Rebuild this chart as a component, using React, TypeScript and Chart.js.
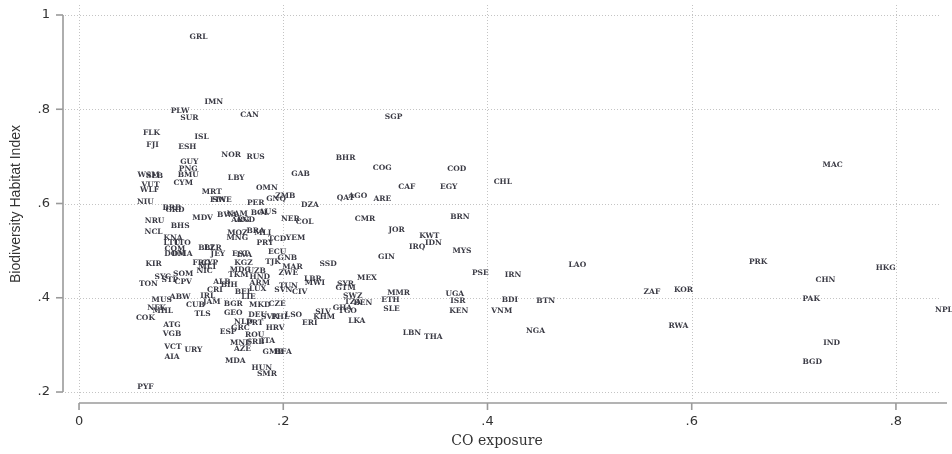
import React, { useEffect, useRef } from "react";
import { Chart, registerables } from "chart.js";

Chart.register(...registerables);

const isoCodes = [
  "GRL","IMN","PLW","SUR","CAN","FLK","ISL","FJI","ESH","NOR",
  "RUS","GUY","PNG","BMU","WSM","SLB","GAB","LBY","CYM","VUT",
  "WLF","OMN","MRT","ZMB","GNQ","SWE","FIN","NIU","PER","DZA",
  "BRB","GRD","MDV","BWA","NAM","BOL","AUS","ARG","AND","NER",
  "COL","NRU","BHS","NCL","MOZ","MNG","BRA","MLI","PRY","TCD",
  "YEM","KNA","LTU","TTO","COM","DOM","DMA","BLZ","BLR","JEY",
  "FRO","CYP","MLT","NIC","EST","LVA","KGZ","MDG","UZB","TKM",
  "HND","TJK","ECU","GNB","MAR","ZWE","SSD","LBR","MWI","TUN",
  "SVN","CIV","LUX","ARM","BEL","LIE","KIR","SOM","SYC","STP",
  "CPV","TON","ALB","BIH","CRI","IRL","MUS","ABW","NFK","MHL",
  "CUB","JAM","COK","TLS","BGR","GEO","MKD","DEU","NLD","SVK",
  "PHL","PRT","HRV","GRC","ESP","ROU","SRB","ITA","MNE","AZE",
  "GMB","BFA","MDA","HUN","SMR","PYF","ATG","VGB","VCT","URY",
  "AIA","CZE","LSO","ERI","SLV","KHM","SWZ","GHA","TGO","LKA",
  "TZA","BEN","SYR","GTM","MEX","GIN","MMR","ETH","SLE","LBN",
  "THA","UGA","ISR","KEN","PSE","MYS","IRQ","IDN","KWT","JOR",
  "CMR","BRN","QAT","AGO","ARE","CAF","EGY","COG","COD","BHR",
  "SGP","CHL","IRN","LAO","BDI","VNM","BTN","NGA","ZAF","KOR",
  "RWA","PRK","MAC","HKG","CHN","PAK","IND","BGD","NPL"
];

const coExposure = [
  0.117,0.132,0.099,0.108,0.167,0.071,0.120,0.072,0.106,0.149,
  0.173,0.108,0.107,0.107,0.068,0.074,0.217,0.154,0.102,0.070,
  0.069,0.184,0.130,0.202,0.193,0.140,0.136,0.065,0.173,0.226,
  0.091,0.094,0.121,0.145,0.155,0.177,0.185,0.158,0.163,0.207,
  0.221,0.074,0.099,0.073,0.155,0.155,0.173,0.180,0.182,0.194,
  0.212,0.092,0.091,0.101,0.094,0.094,0.101,0.125,0.131,0.136,
  0.120,0.128,0.126,0.123,0.158,0.162,0.161,0.158,0.174,0.156,
  0.177,0.190,0.194,0.204,0.209,0.205,0.244,0.229,0.231,0.205,
  0.200,0.216,0.175,0.177,0.161,0.166,0.073,0.102,0.082,0.089,
  0.102,0.068,0.140,0.147,0.133,0.126,0.081,0.099,0.076,0.082,
  0.114,0.130,0.065,0.121,0.151,0.151,0.177,0.175,0.161,0.187,
  0.197,0.172,0.192,0.158,0.146,0.172,0.173,0.185,0.158,0.160,
  0.190,0.200,0.153,0.179,0.184,0.065,0.091,0.091,0.092,0.112,
  0.091,0.194,0.210,0.226,0.239,0.240,0.268,0.258,0.263,0.272,
  0.268,0.278,0.261,0.261,0.282,0.301,0.313,0.305,0.306,0.326,
  0.347,0.368,0.371,0.372,0.393,0.375,0.331,0.347,0.343,0.311,
  0.280,0.373,0.261,0.273,0.297,0.321,0.362,0.297,0.370,0.261,
  0.308,0.415,0.425,0.488,0.422,0.414,0.457,0.447,0.561,0.592,
  0.587,0.665,0.738,0.790,0.731,0.717,0.737,0.718,0.847
];

const bhiValues = [
  0.953,0.815,0.796,0.781,0.788,0.750,0.741,0.724,0.720,0.703,
  0.699,0.688,0.673,0.661,0.661,0.658,0.663,0.654,0.644,0.639,
  0.629,0.633,0.624,0.616,0.610,0.607,0.607,0.603,0.601,0.597,
  0.590,0.586,0.569,0.576,0.578,0.580,0.582,0.565,0.565,0.567,
  0.561,0.563,0.552,0.540,0.537,0.527,0.542,0.537,0.516,0.525,
  0.527,0.527,0.516,0.516,0.503,0.493,0.493,0.506,0.506,0.493,
  0.474,0.474,0.465,0.457,0.493,0.491,0.474,0.459,0.457,0.448,
  0.444,0.476,0.497,0.484,0.465,0.453,0.472,0.440,0.431,0.425,
  0.416,0.412,0.419,0.431,0.412,0.402,0.472,0.450,0.444,0.438,
  0.433,0.429,0.433,0.427,0.416,0.404,0.395,0.402,0.378,0.372,
  0.385,0.391,0.357,0.366,0.387,0.368,0.385,0.363,0.349,0.359,
  0.359,0.346,0.336,0.336,0.327,0.321,0.306,0.308,0.304,0.291,
  0.285,0.285,0.266,0.251,0.238,0.211,0.342,0.323,0.296,0.289,
  0.274,0.387,0.363,0.346,0.370,0.359,0.404,0.378,0.372,0.351,
  0.391,0.389,0.429,0.421,0.442,0.487,0.410,0.395,0.376,0.325,
  0.317,0.408,0.393,0.372,0.453,0.499,0.508,0.516,0.531,0.544,
  0.567,0.571,0.612,0.616,0.610,0.635,0.635,0.675,0.673,0.697,
  0.784,0.646,0.448,0.470,0.395,0.372,0.393,0.329,0.412,0.416,
  0.340,0.476,0.682,0.463,0.438,0.397,0.304,0.264,0.374
];

const xTickValues = [0, 0.2, 0.4, 0.6, 0.8];
const xTickLabels = ["0", ".2", ".4", ".6", ".8"];
const yTickValues = [0.2, 0.4, 0.6, 0.8, 1];
const yTickLabels = [".2", ".4", ".6", ".8", "1"];
const xTitle = "CO exposure";
const yTitle = "Biodiversity Habitat Index";

const X_MIN = -0.0157;
const X_MAX = 0.85;
const Y_MIN = 0.1767;
const Y_MAX = 1.0212;

const stataPlugin = {
  id: "stataDecor",
  beforeDatasetsDraw(chart: any) {
    const { ctx, chartArea, scales } = chart;
    const xs = scales.x;
    const ys = scales.y;
    ctx.save();
    ctx.strokeStyle = "#c4c4c4";
    ctx.lineWidth = 1;
    ctx.setLineDash([1, 2]);
    for (const v of xTickValues) {
      const px = Math.round(xs.getPixelForValue(v)) + 0.5;
      ctx.beginPath();
      ctx.moveTo(px, chartArea.top);
      ctx.lineTo(px, chartArea.bottom - 2);
      ctx.stroke();
    }
    for (const v of yTickValues) {
      const py = Math.round(ys.getPixelForValue(v)) + 0.5;
      ctx.beginPath();
      ctx.moveTo(chartArea.left + 2, py);
      ctx.lineTo(chartArea.right - 6, py);
      ctx.stroke();
    }
    ctx.setLineDash([]);
    ctx.strokeStyle = "#9a9a9a";
    ctx.lineWidth = 1.6;
    const ax = chartArea.left;
    const yTop = ys.getPixelForValue(yTickValues[yTickValues.length - 1]);
    const yBot = ys.getPixelForValue(yTickValues[0]);
    ctx.beginPath();
    ctx.moveTo(ax, yTop);
    ctx.lineTo(ax, yBot);
    ctx.stroke();
    for (const v of yTickValues) {
      const py = ys.getPixelForValue(v);
      ctx.beginPath();
      ctx.moveTo(ax - 7, py);
      ctx.lineTo(ax, py);
      ctx.stroke();
    }
    const ay = chartArea.bottom;
    const xLeft = xs.getPixelForValue(xTickValues[0]);
    ctx.beginPath();
    ctx.moveTo(xLeft, ay);
    ctx.lineTo(chartArea.right, ay);
    ctx.stroke();
    for (const v of xTickValues) {
      const px = xs.getPixelForValue(v);
      ctx.beginPath();
      ctx.moveTo(px, ay);
      ctx.lineTo(px, ay + 7);
      ctx.stroke();
    }
    ctx.restore();
  },
  afterDatasetsDraw(chart: any) {
    const { ctx } = chart;
    const meta = chart.getDatasetMeta(0);
    ctx.save();
    ctx.font = "bold 7.5px 'DejaVu Serif'";
    ctx.fillStyle = "#3a3a44";
    ctx.textAlign = "center";
    ctx.textBaseline = "middle";
    meta.data.forEach((el: any, i: number) => {
      ctx.fillText(isoCodes[i], el.x, el.y);
    });
    ctx.restore();
  },
  afterDraw(chart: any) {
    const { ctx, chartArea } = chart;
    ctx.save();
    ctx.fillStyle = "#333333";
    ctx.textAlign = "center";
    ctx.textBaseline = "middle";
    ctx.font = "14px 'DejaVu Serif'";
    ctx.fillText(xTitle, (chartArea.left + chartArea.right) / 2 - 8, 441);
    ctx.translate(16, (chartArea.top + chartArea.bottom) / 2);
    ctx.rotate(-Math.PI / 2);
    ctx.font = "14px 'Liberation Sans'";
    ctx.fillText(yTitle, 0, 0);
    ctx.restore();
  },
};

export default function App() {
  const ref = useRef<HTMLCanvasElement | null>(null);

  useEffect(() => {
    if (!ref.current) return;
    const points = coExposure.map((x, i) => ({ x, y: bhiValues[i] }));
    const chart = new Chart(ref.current, {
      type: "scatter",
      data: {
        datasets: [
          {
            data: points,
            pointRadius: 0,
            pointHoverRadius: 0,
            showLine: false,
          },
        ],
      },
      options: {
        animation: false,
        responsive: false,
        events: [],
        layout: { padding: { left: 0, right: 5, top: 5, bottom: 0 } },
        plugins: {
          legend: { display: false },
          tooltip: { enabled: false },
        },
        scales: {
          x: {
            type: "linear",
            min: X_MIN,
            max: X_MAX,
            grid: { display: false, drawTicks: false },
            border: { display: false },
            afterBuildTicks: (s: any) => {
              s.ticks = xTickValues.map((v) => ({ value: v }));
            },
            afterFit: (s: any) => {
              s.height = 51;
              s.paddingLeft = 0;
              s.paddingRight = 0;
            },
            ticks: {
              padding: 11,
              color: "#333333",
              font: { family: "'DejaVu Sans'", size: 13 },
              maxRotation: 0,
              callback: (v: any) => {
                const i = xTickValues.findIndex((t) => Math.abs(t - v) < 1e-6);
                return i >= 0 ? xTickLabels[i] : "";
              },
            },
          },
          y: {
            type: "linear",
            min: Y_MIN,
            max: Y_MAX,
            grid: { display: false, drawTicks: false },
            border: { display: false },
            afterBuildTicks: (s: any) => {
              s.ticks = yTickValues.map((v) => ({ value: v }));
            },
            afterFit: (s: any) => {
              s.width = 63;
              s.paddingTop = 0;
              s.paddingBottom = 0;
            },
            ticks: {
              padding: 13,
              color: "#333333",
              font: { family: "'DejaVu Sans'", size: 13 },
              callback: (v: any) => {
                const i = yTickValues.findIndex((t) => Math.abs(t - v) < 1e-6);
                return i >= 0 ? yTickLabels[i] : "";
              },
            },
          },
        },
      },
      plugins: [stataPlugin],
    });
    return () => chart.destroy();
  }, []);

  return (
    <div style={{ position: "fixed", left: 0, top: 0, width: 952, height: 454, background: "#ffffff" }}>
      <canvas ref={ref} width={952} height={454} style={{ display: "block" }} />
    </div>
  );
}
